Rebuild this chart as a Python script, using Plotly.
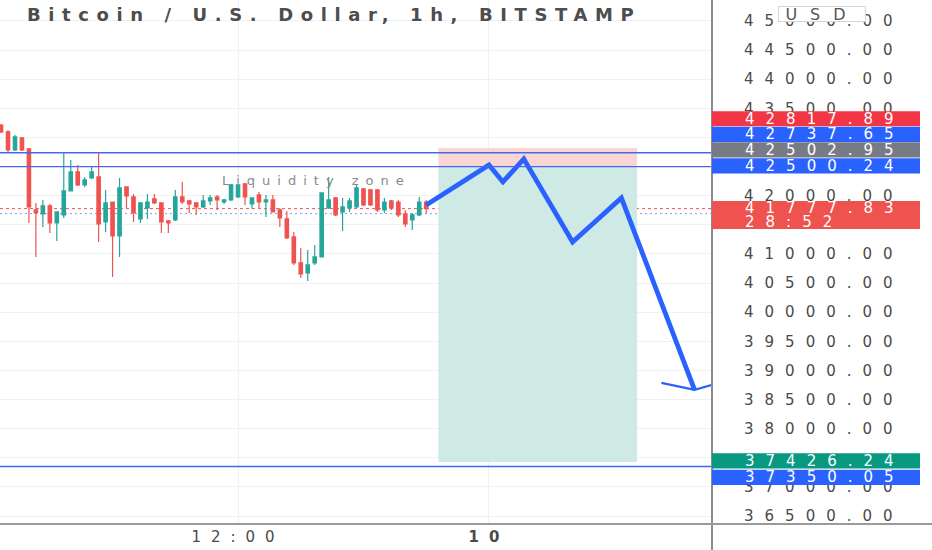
import plotly.graph_objects as go
import pandas as pd

# ---------------- data ----------------
TITLE = "Bitcoin / U.S. Dollar, 1h, BITSTAMP"
candle_start = "2022-01-09 00:40"
candle_count = 62
candle_step = "20min"

opens = [43214, 43095, 42786, 42991, 42803, 41755, 41687, 41824, 41532, 41670,
         42082, 42408, 42185, 42305, 42322, 41549, 41892, 41309, 42150, 41978,
         41601, 41790, 41944, 41875, 41567, 41584, 41978, 41910, 41875, 41807,
         41910, 41978, 41892, 41927, 41978, 42202, 41858, 42013, 41892, 41927,
         41755, 41601, 41292, 40846, 40674, 40846, 40949, 41790, 41961, 41721,
         41790, 41807, 42116, 42099, 42099, 41755, 41910, 41892, 41687, 41584,
         41670, 41892]
highs = [43232, 43129, 43043, 43009, 42820, 41875, 41927, 41858, 41721, 42734,
         42614, 42528, 42322, 42494, 42734, 42099, 41892, 42305, 42150, 42030,
         41892, 42030, 42030, 41875, 41584, 42099, 42236, 41927, 41892, 42013,
         42013, 42013, 41944, 42202, 42185, 42219, 41961, 42064, 42013, 42013,
         41790, 41738, 41378, 41103, 41069, 41155, 42047, 42322, 41978, 41961,
         41961, 42185, 42133, 42116, 42116, 41961, 41927, 41927, 41755, 41704,
         41978, 41927]
lows = [43077, 42734, 42769, 42769, 41532, 40949, 41464, 41361, 41223, 41618,
        42082, 42168, 42150, 42288, 41206, 41378, 40605, 40949, 41790, 41549,
        41532, 41601, 41858, 41361, 41361, 41567, 41858, 41704, 41670, 41790,
        41841, 41755, 41858, 41910, 41961, 41841, 41773, 41790, 41635, 41721,
        41464, 41258, 40811, 40588, 40537, 40811, 40949, 41773, 41652, 41395,
        41721, 41790, 41824, 41824, 41721, 41704, 41755, 41635, 41464, 41412,
        41652, 41704]
closes = [43095, 42786, 43009, 42786, 41807, 41704, 41824, 41532, 41721, 42082,
          42408, 42185, 42270, 42408, 41515, 41875, 41309, 42133, 41996, 41704,
          41875, 41892, 41875, 41549, 41532, 41978, 41892, 41858, 41807, 41910,
          41961, 41927, 41927, 42185, 42185, 41978, 41961, 41892, 41927, 41721,
          41618, 41275, 40846, 40657, 40811, 40949, 42047, 41927, 41670, 41807,
          41910, 42133, 41841, 41841, 41755, 41892, 41790, 41670, 41515, 41670,
          41892, 41777.83]

view_start, view_end = "2022-01-09 00:37", "2022-01-10 10:40"
price_min, price_max = 36363, 45360

x_tick_values = ["2022-01-09 12:00", "2022-01-10 00:00"]
x_tick_labels = ["12:00", "<b>10</b>"]
y_tick_values = [36500, 37000, 37500, 38000, 38500, 39000, 39500, 40000, 40500,
                 41000, 41500, 42000, 42500, 43000, 43500, 44000, 44500, 45000]
# tick labels that are hidden behind the price tags in the reference
y_ticks_hidden = [37500, 41500, 42500, 43000]

level_lines = [42737.65, 42500.24, 37350.05]
last_price = 41777.83
lower_dotted_price = 41692
stop_price = 42817.89
entry_price = 42502.95
target_price = 37426.24
box_start, box_end = "2022-01-09 21:35", "2022-01-10 07:05"

path_times = ["2022-01-09 21:00", "2022-01-10 00:00", "2022-01-10 00:40",
              "2022-01-10 01:40", "2022-01-10 04:00", "2022-01-10 06:20",
              "2022-01-10 09:50"]
path_prices = [41841, 42528, 42236, 42631, 41206, 41961, 38665]
arrow_times = ["2022-01-10 08:15", "2022-01-10 09:50", "2022-01-10 11:00"]
arrow_prices = [38785, 38665, 38785]

zone_label = "Liquidity zone"
zone_time, zone_price = "2022-01-09 15:45", 42253

label_prices = [42817.89, 42737.65, 42502.95, 42500.24, 41777.83, 37426.24, 37350.05]
countdown_text = "28:52"
currency_text = "USD"

# ---------------- styles ----------------
label_colors = ["#f23645", "#2962ff", "#787b86", "#2962ff", "#ef5350", "#089981", "#2962ff"]
label_shift = [29.3, 18.3, 16.5, 0.7, -6.3, 1.2, -10.9]
FONT = "DejaVu Sans"
PLOT_W = 712.0
PLOT_H = 524.0


def spaced(text, px):
    return f'<span style="letter-spacing:{px}px">{text}</span>'


times = pd.date_range(candle_start, periods=candle_count, freq=candle_step)

fig = go.Figure()
fig.add_trace(go.Candlestick(
    x=times, open=opens, high=highs, low=lows, close=closes,
    increasing=dict(line=dict(color="#26a69a", width=1.2), fillcolor="#26a69a"),
    decreasing=dict(line=dict(color="#ef5350", width=1.2), fillcolor="#ef5350"),
    whiskerwidth=0, hoverinfo="skip", showlegend=False,
))
fig.add_trace(go.Scatter(
    x=path_times, y=path_prices, mode="lines",
    line=dict(color="#2962ff", width=4.8), hoverinfo="skip", showlegend=False,
))
fig.add_trace(go.Scatter(
    x=arrow_times, y=arrow_prices, mode="lines",
    line=dict(color="#2962ff", width=2.2), hoverinfo="skip", showlegend=False,
))

shapes = []
# position boxes
shapes.append(dict(type="rect", xref="x", yref="y", x0=box_start, x1=box_end,
                   y0=entry_price, y1=stop_price, fillcolor="#f9d5d4",
                   line=dict(width=0), layer="between"))
shapes.append(dict(type="rect", xref="x", yref="y", x0=box_start, x1=box_end,
                   y0=target_price, y1=entry_price, fillcolor="#cfe9e4",
                   line=dict(width=0), layer="between"))
# dotted price lines
shapes.append(dict(type="line", xref="paper", yref="y", x0=0, x1=1,
                   y0=last_price, y1=last_price,
                   line=dict(color="#ef5350", width=1, dash="3px,3px"), layer="between"))
shapes.append(dict(type="line", xref="paper", yref="y", x0=0, x1=1,
                   y0=lower_dotted_price, y1=lower_dotted_price,
                   line=dict(color="#7d9ee6", width=1, dash="2px,3px"), layer="between"))
# horizontal levels
for lv in level_lines:
    shapes.append(dict(type="line", xref="paper", yref="y", x0=0, x1=1, y0=lv, y1=lv,
                       line=dict(color="#4468f0", width=1.3), layer="above"))
# axis frame lines
shapes.append(dict(type="line", xref="paper", yref="paper", x0=1, x1=1, y0=-0.06, y1=1,
                   line=dict(color="#8c8c8c", width=2), layer="above"))
shapes.append(dict(type="line", xref="paper", yref="paper", x0=0, x1=932 / PLOT_W, y0=0, y1=0,
                   line=dict(color="#9a9a9a", width=2), layer="above"))
# price label boxes
for p, c, s in zip(label_prices, label_colors, label_shift):
    half = 14 if p == last_price else 7.6
    shapes.append(dict(type="rect", xref="paper", yref="y", ysizemode="pixel", yanchor=p,
                       x0=1, x1=920 / PLOT_W, y0=s - half, y1=s + half,
                       fillcolor=c, line=dict(width=0), layer="above"))

annotations = []
annotations.append(dict(xref="paper", yref="paper", x=25 / PLOT_W, y=1 - 15 / PLOT_H,
                        xanchor="left", yanchor="middle", showarrow=False,
                        text="<b>" + spaced(TITLE, 7.6) + "</b>",
                        font=dict(family=FONT, size=18, color="#4d4d4d")))
annotations.append(dict(xref="x", yref="y", x=zone_time, y=zone_price,
                        xanchor="center", yanchor="middle", showarrow=False,
                        text=spaced(zone_label, 7),
                        font=dict(family=FONT, size=13, color="#8a8a8a")))
label_x = 743 / PLOT_W
for p, s in zip(label_prices, label_shift):
    if p == last_price:
        annotations.append(dict(xref="paper", yref="y", x=label_x, y=p, yshift=s + 6.5,
                                xanchor="left", yanchor="middle", showarrow=False,
                                text=spaced(f"{p:.2f}", 11),
                                font=dict(family=FONT, size=15, color="white")))
        annotations.append(dict(xref="paper", yref="y", x=label_x, y=p, yshift=s - 7,
                                xanchor="left", yanchor="middle", showarrow=False,
                                text=spaced(countdown_text, 11),
                                font=dict(family=FONT, size=15, color="white")))
    else:
        annotations.append(dict(xref="paper", yref="y", x=label_x, y=p, yshift=s,
                                xanchor="left", yanchor="middle", showarrow=False,
                                text=spaced(f"{p:.2f}", 11),
                                font=dict(family=FONT, size=15, color="white")))
annotations.append(dict(xref="paper", yref="paper", x=822 / PLOT_W, y=1 - 14 / PLOT_H,
                        xanchor="center", yanchor="middle", showarrow=False,
                        text=spaced(currency_text, 13), width=86, height=14,
                        bgcolor="white", bordercolor="#d6d6d6", borderwidth=1, borderpad=0,
                        font=dict(family=FONT, size=16, color="#555555")))

y_tick_text = ["" if v in y_ticks_hidden else spaced(f"{v:.2f}", 11) for v in y_tick_values]

fig.update_layout(
    width=932, height=550,
    margin=dict(l=0, r=932 - int(PLOT_W), t=0, b=550 - int(PLOT_H)),
    paper_bgcolor="white", plot_bgcolor="white",
    showlegend=False, font=dict(family=FONT, color="#4a4a4a"),
    shapes=shapes, annotations=annotations,
    xaxis=dict(type="date", range=[view_start, view_end],
               tickvals=x_tick_values,
               ticktext=[spaced(t, 10) for t in x_tick_labels],
               tickfont=dict(family=FONT, size=15, color="#4a4a4a"),
               ticklabelstandoff=2,
               showgrid=True, gridcolor="#eef1f6", gridwidth=1,
               zeroline=False, showline=False, ticks="",
               rangeslider=dict(visible=False), fixedrange=True),
    yaxis=dict(side="right", range=[price_min, price_max],
               tickvals=y_tick_values,
               ticktext=y_tick_text,
               tickfont=dict(family=FONT, size=15, color="#4a4a4a"),
               ticklabelstandoff=31,
               showgrid=True, gridcolor="#eef1f6", gridwidth=1,
               zeroline=False, showline=False, ticks="", fixedrange=True),
)

fig.write_html("out.html", config={"displayModeBar": False},
               post_script="document.body.style.margin='0';")
